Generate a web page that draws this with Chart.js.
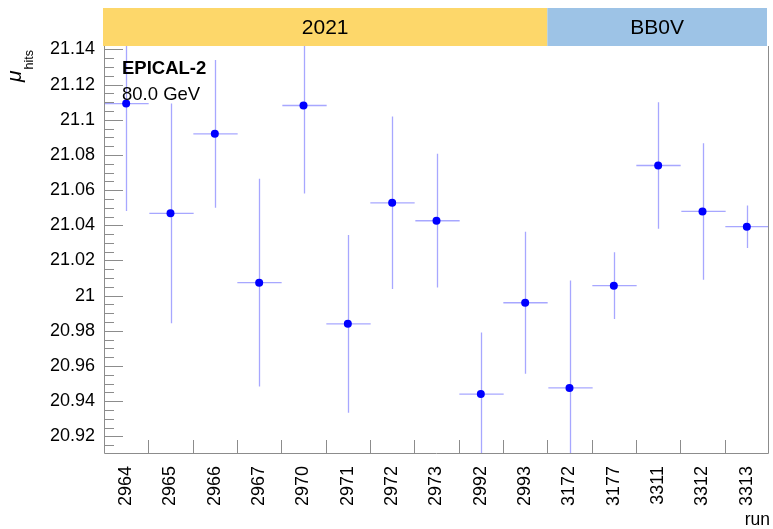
<!DOCTYPE html>
<html>
<head>
<meta charset="utf-8">
<script src="https://cdn.jsdelivr.net/npm/chart.js@4"></script>
<style>
  body { margin: 0; background: #fff; }
  #wrap { width: 773px; height: 529px; }
</style>
</head>
<body>
<div id="wrap"><canvas id="chart" width="773" height="529"></canvas></div>
<script>
// data
const runs = ['2964','2965','2966','2967','2970','2971','2972','2973','2992','2993','3172','3177','3311','3312','3313'];
const muHits = [21.1092, 21.0468, 21.0920, 21.0074, 21.1081, 20.9840, 21.0528, 21.0426, 20.9441, 20.9960, 20.9476, 21.0057, 21.0740, 21.0479, 21.0392];
const muErr  = [0.0610, 0.0624, 0.0420, 0.0590, 0.0500, 0.0505, 0.0490, 0.0380, 0.0350, 0.0403, 0.0610, 0.0190, 0.0360, 0.0388, 0.0121];
const periodLabels = ['2021', 'BB0V'];
const periodRuns = [10, 5];
const yTickValues = [20.92, 20.94, 20.96, 20.98, 21.00, 21.02, 21.04, 21.06, 21.08, 21.10, 21.12, 21.14];
const yMin = 20.9106, yMax = 21.1419;

const FONT = "'Liberation Sans', Arial, Helvetica, sans-serif";
const periodColors = ['#fdd76a', '#9dc3e6'];
const axisColor = '#8c8c8c';
const errColor = 'rgba(60,60,255,0.45)';

// ROOT style frame, inward ticks and error bars
const rootStyle = {
  id: 'rootStyle',
  beforeDatasetsDraw(chart) {
    const {ctx, chartArea: a, scales: {x, y}} = chart;
    ctx.save();
    ctx.beginPath();
    ctx.rect(a.left, a.top, a.right - a.left, a.bottom - a.top);
    ctx.clip();
    ctx.strokeStyle = errColor;
    ctx.lineWidth = 1.3;
    const half = (x.getPixelForValue(1) - x.getPixelForValue(0)) / 2;
    muHits.forEach((v, i) => {
      const px = Math.round(x.getPixelForValue(i)) + 0.5;
      const py = y.getPixelForValue(v);
      ctx.beginPath();
      ctx.moveTo(px, y.getPixelForValue(v + muErr[i]));
      ctx.lineTo(px, y.getPixelForValue(v - muErr[i]));
      ctx.moveTo(px - half, py);
      ctx.lineTo(px + half, py);
      ctx.stroke();
    });
    ctx.restore();

    // axes
    ctx.save();
    ctx.strokeStyle = axisColor;
    ctx.lineWidth = 1;
    ctx.beginPath();
    ctx.moveTo(a.left + 0.5, a.top);
    ctx.lineTo(a.left + 0.5, a.bottom + 0.5);
    ctx.lineTo(a.right - 0.5, a.bottom + 0.5);
    ctx.lineTo(a.right - 0.5, a.top);
    // y major + minor ticks
    for (let k = Math.ceil(yMin / 0.005); k * 0.005 <= yMax; k++) {
      const v = k * 0.005;
      const major = k % 4 === 0;
      const py = Math.round(y.getPixelForValue(v)) + 0.5;
      ctx.moveTo(a.left, py);
      ctx.lineTo(a.left + (major ? 19 : 10), py);
    }
    // x ticks at bin edges
    for (let i = 1; i < runs.length; i++) {
      const px = Math.round((x.getPixelForValue(i - 1) + x.getPixelForValue(i)) / 2) + 0.5;
      ctx.moveTo(px, a.bottom);
      ctx.lineTo(px, a.bottom - 13);
    }
    ctx.stroke();
    ctx.restore();
  },
  afterDraw(chart) {
    const {ctx, chartArea: a, scales: {x}} = chart;
    ctx.save();
    // period bands above the frame
    let start = 0;
    periodLabels.forEach((lab, j) => {
      const end = start + periodRuns[j];
      const x0 = j === 0 ? a.left - 1 : (x.getPixelForValue(start - 1) + x.getPixelForValue(start)) / 2;
      const x1 = end >= runs.length ? a.right - 2 : (x.getPixelForValue(end - 1) + x.getPixelForValue(end)) / 2;
      ctx.fillStyle = periodColors[j];
      ctx.fillRect(x0, 8, x1 - x0, a.top - 8);
      ctx.fillStyle = '#000';
      ctx.font = '21px ' + FONT;
      ctx.textAlign = 'center';
      ctx.textBaseline = 'middle';
      ctx.fillText(lab, (x0 + x1) / 2, (8 + a.top) / 2 + 1);
      start = end;
    });

    // labels inside the frame
    ctx.textAlign = 'left';
    ctx.textBaseline = 'alphabetic';
    ctx.fillStyle = '#000';
    ctx.font = 'bold 18.5px ' + FONT;
    ctx.fillText('EPICAL-2', 122, 73.5);
    ctx.font = '18.5px ' + FONT;
    ctx.fillText('80.0 GeV', 122, 100);

    // x title
    ctx.font = '17.5px ' + FONT;
    ctx.textAlign = 'right';
    ctx.fillText('run', 770, 525);

    // y title mu_hits
    ctx.translate(21, 82);
    ctx.rotate(-Math.PI / 2);
    ctx.textAlign = 'left';
    ctx.font = 'italic 21px ' + FONT;
    ctx.fillText('μ', 0, 0);
    const w = ctx.measureText('μ').width;
    ctx.font = '12.5px ' + FONT;
    ctx.fillText('hits', w + 1, 12);
    ctx.restore();
  }
};

new Chart(document.getElementById('chart'), {
  type: 'line',
  data: {
    labels: runs,
    datasets: [{
      data: muHits,
      showLine: false,
      pointRadius: 4,
      pointBackgroundColor: '#0000ff',
      pointBorderColor: '#0000ff',
      pointBorderWidth: 0
    }]
  },
  options: {
    responsive: false,
    animation: false,
    layout: { padding: { top: 46, right: 3, left: 0, bottom: 0 } },
    plugins: { legend: { display: false }, tooltip: { enabled: false } },
    scales: {
      x: {
        type: 'category',
        offset: true,
        grid: { display: false, drawTicks: false },
        border: { display: false },
        ticks: {
          autoSkip: false, minRotation: 90, maxRotation: 90, padding: 13,
          color: '#000', font: { family: FONT, size: 18 }
        },
        afterFit(s) { s.height = 76; s.paddingLeft = 0; s.paddingRight = 0; }
      },
      y: {
        min: yMin, max: yMax,
        grid: { display: false, drawTicks: false },
        border: { display: false },
        afterBuildTicks(s) { s.ticks = yTickValues.map(v => ({ value: v })); },
        ticks: {
          padding: 9, color: '#000', font: { family: FONT, size: 18 },
          callback: v => String(+v.toFixed(2))
        },
        afterFit(s) { s.width = 104; s.paddingTop = 0; s.paddingBottom = 0; }
      }
    }
  },
  plugins: [rootStyle]
});
</script>
</body>
</html>
